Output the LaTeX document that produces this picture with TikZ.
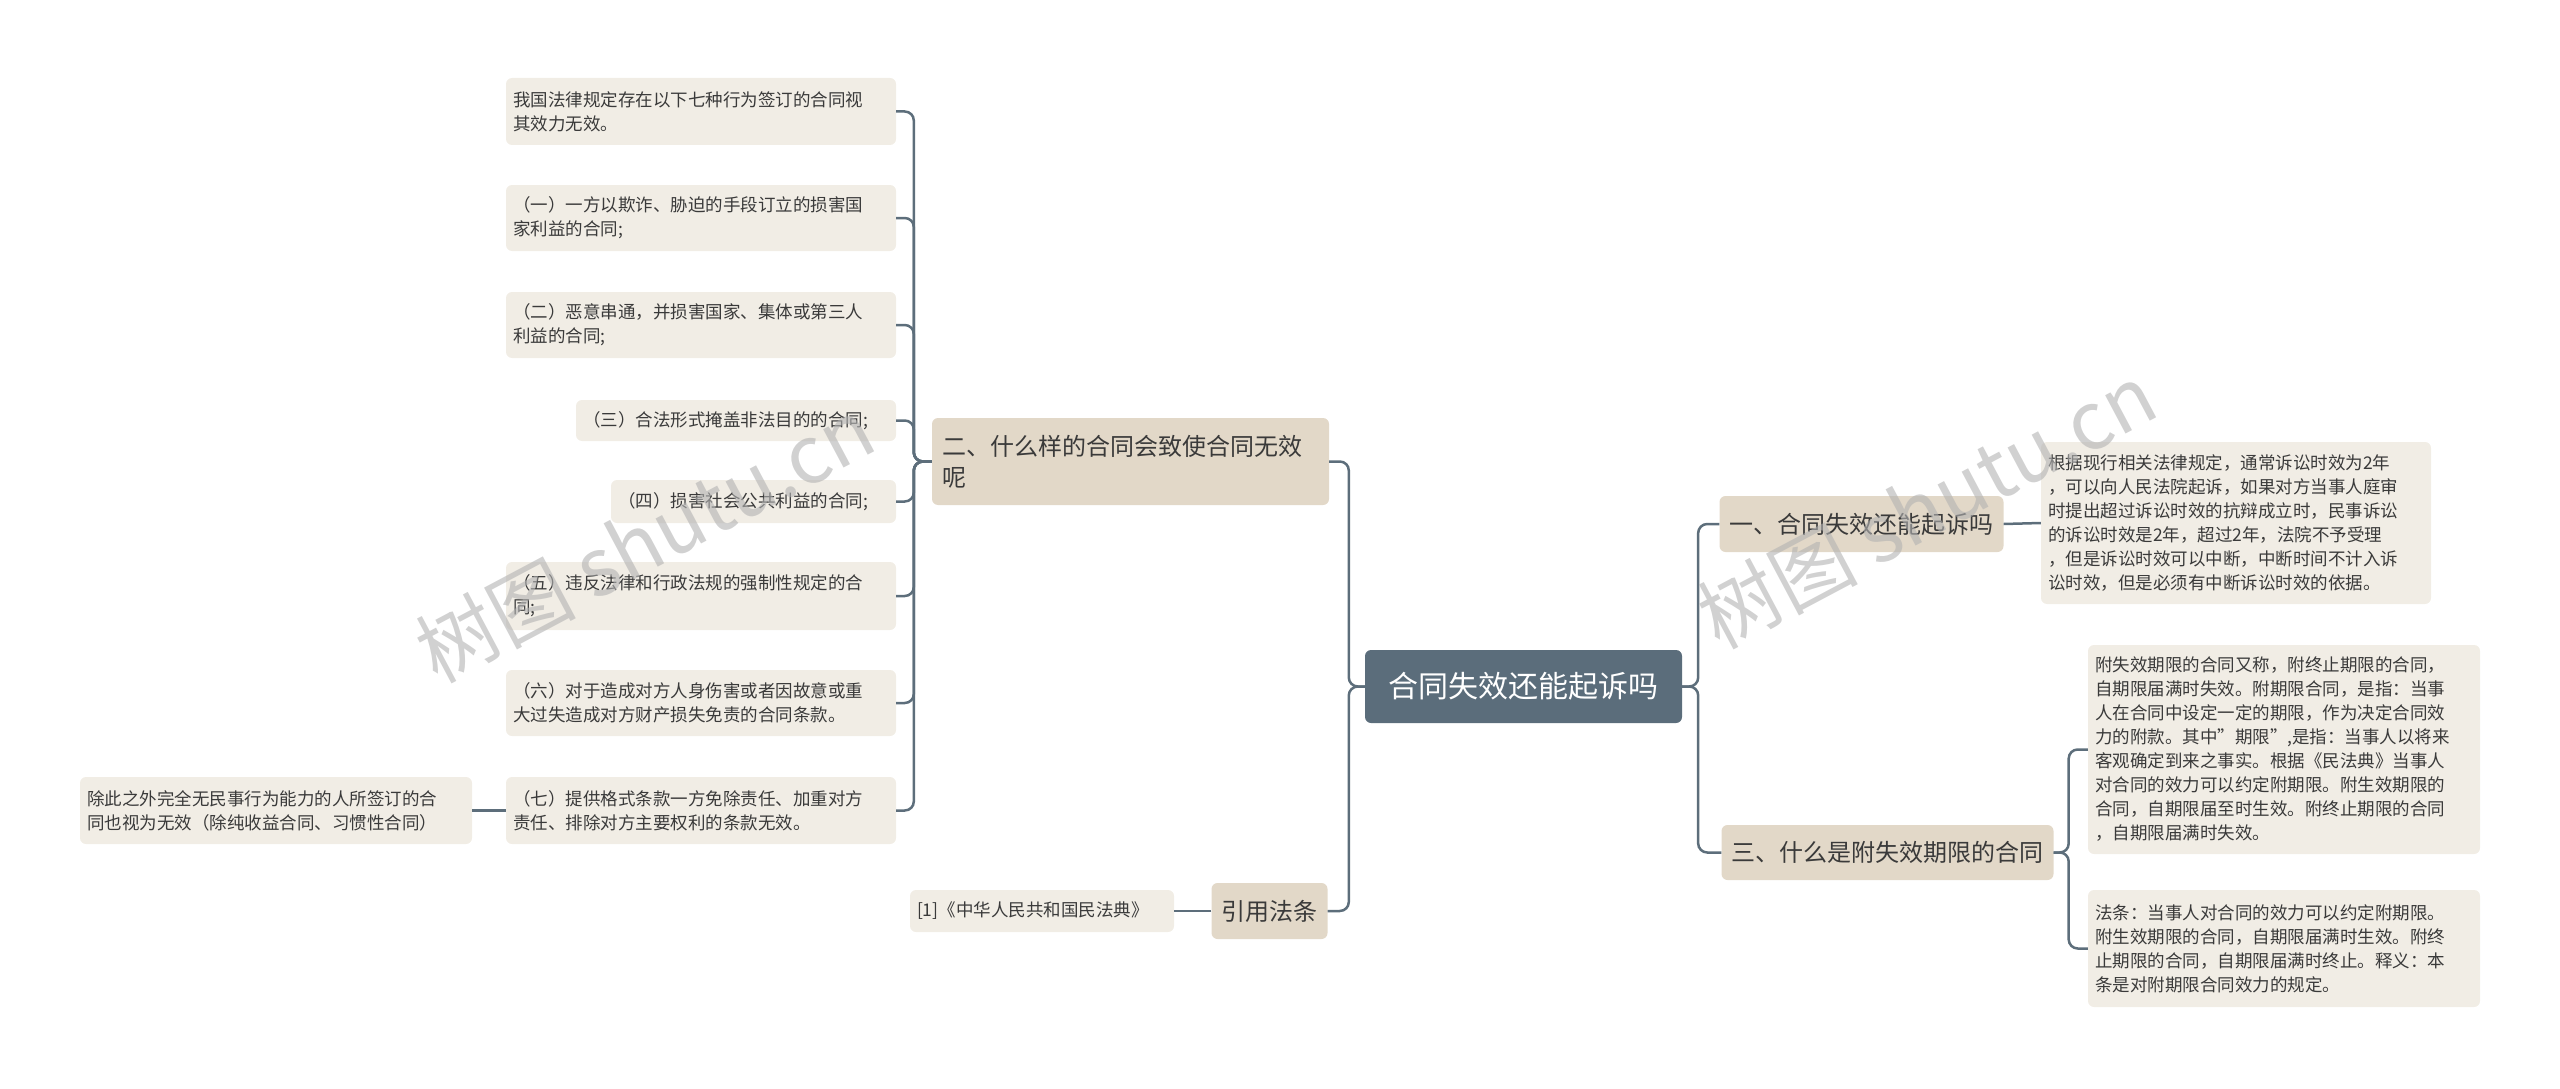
\documentclass[tikz,border=0pt]{standalone}
\usepackage{fontspec}
\setmainfont{Noto Sans CJK SC}
\definecolor{linkc}{HTML}{5D6E7B}
\definecolor{leafc}{HTML}{F1EDE5}
\definecolor{branchc}{HTML}{E2D8C8}
\definecolor{rootc}{HTML}{5B6D7B}
\definecolor{txtc}{HTML}{3A3A3A}
\tikzset{
  leaf/.style={fill=leafc, rounded corners=6pt, inner xsep=7pt, inner ysep=0pt, align=left,
    text=txtc, font=\fontsize{17.5}{24}\selectfont, minimum height=#1},
  branch/.style={fill=branchc, rounded corners=6pt, inner xsep=10pt, inner ysep=0pt, align=left,
    text=txtc, font=\fontsize{24}{31}\selectfont, minimum height=#1},
  link/.style={draw=linkc, line width=2.5pt, rounded corners=9pt},
}
\begin{document}
\begin{tikzpicture}[x=1pt, y=-1pt]
  \useasboundingbox (0,0) rectangle (2560,1089);
  % root and main branches
  \node[fill=rootc, rounded corners=6pt, text=white, font=\fontsize{30}{34}\selectfont,
    minimum width=317pt, minimum height=73pt] (ctr) at (1523.5,686.5) {合同失效还能起诉吗};
  \node[branch=87pt, text width=377pt] (bwhy) at (1130.5,461.5) {二、什么样的合同会致使合同无效\\呢};
  \node[branch=56pt] (bcite) at (1269.5,911) {引用法条};
  \node[branch=56pt] (bsue) at (1861.5,524) {一、合同失效还能起诉吗};
  \node[branch=55pt] (bterm) at (1887.5,852.5) {三、什么是附失效期限的合同};
  % leaves of branch two
  \node[leaf=67pt, text width=376pt] (w0) at (701,111.5) {我国法律规定存在以下七种行为签订的合同视\\其效力无效。};
  \node[leaf=66pt, text width=376pt] (w1) at (701,218) {（一）一方以欺诈、胁迫的手段订立的损害国\\家利益的合同;};
  \node[leaf=66pt, text width=376pt] (w2) at (701,325) {（二）恶意串通，并损害国家、集体或第三人\\利益的合同;};
  \node[leaf=41pt, text width=306pt] (w3) at (736,420.5) {（三）合法形式掩盖非法目的的合同;};
  \node[leaf=43pt, text width=271pt] (w4) at (753.5,501.5) {（四）损害社会公共利益的合同;};
  \node[leaf=68pt, text width=376pt] (w5) at (701,596) {（五）违反法律和行政法规的强制性规定的合\\同;};
  \node[leaf=66pt, text width=376pt] (w6) at (701,703) {（六）对于造成对方人身伤害或者因故意或重\\大过失造成对方财产损失免责的合同条款。};
  \node[leaf=67pt, text width=376pt] (w7) at (701,810.5) {（七）提供格式条款一方免除责任、加重对方\\责任、排除对方主要权利的条款无效。};
  \node[leaf=67pt, text width=378pt] (wx) at (276,810.5) {除此之外完全无民事行为能力的人所签订的合\\同也视为无效（除纯收益合同、习惯性合同）};
  \node[leaf=42pt, text width=250pt] (cite) at (1042,911) {[1]《中华人民共和国民法典》};
  % right leaves
  \node[leaf=162pt, text width=376pt] (sue) at (2236,523) {根据现行相关法律规定，通常诉讼时效为2年\\，可以向人民法院起诉，如果对方当事人庭审\\时提出超过诉讼时效的抗辩成立时，民事诉讼\\的诉讼时效是2年，超过2年，法院不予受理\\，但是诉讼时效可以中断，中断时间不计入诉\\讼时效，但是必须有中断诉讼时效的依据。};
  \node[leaf=209pt, text width=378pt] (term1) at (2284,749.5) {附失效期限的合同又称，附终止期限的合同，\\自期限届满时失效。附期限合同，是指：当事\\人在合同中设定一定的期限，作为决定合同效\\力的附款。其中"期限",是指：当事人以将来\\客观确定到来之事实。根据《民法典》当事人\\对合同的效力可以约定附期限。附生效期限的\\合同，自期限届至时生效。附终止期限的合同\\，自期限届满时失效。};
  \node[leaf=117pt, text width=378pt] (term2) at (2284,948.5) {法条：当事人对合同的效力可以约定附期限。\\附生效期限的合同，自期限届满时生效。附终\\止期限的合同，自期限届满时终止。释义：本\\条是对附期限合同效力的规定。};
  % trunks
  \path (ctr.west) ++(-16,0) coordinate (lt);
  \path (ctr.east) ++(16,0) coordinate (rt);
  \path (bwhy.west) ++(-18,0) coordinate (wt);
  \path (bterm.east) ++(15,0) coordinate (tt);
  \foreach \kid in {bwhy,bcite} \draw[link] (ctr.west) -- (lt) |- (\kid.east);
  \foreach \kid in {bsue,bterm} \draw[link] (ctr.east) -- (rt) |- (\kid.west);
  \foreach \kid in {w0,w1,w2,w3,w4,w5,w6,w7} \draw[link] (bwhy.west) -- (wt) |- (\kid.east);
  \foreach \kid in {term1,term2} \draw[link] (bterm.east) -- (tt) |- (\kid.west);
  \draw[link] (bsue.east) -- (sue.west);
  \draw[link] (bcite.west) -- (cite.east);
  \draw[link] (w7.west) -- (wx.east);
  % watermarks
  \foreach \wx/\wy in {645/540, 1927/506}
    \node[rotate=28, text=black!30, opacity=0.6, font=\fontsize{80}{80}\selectfont] at (\wx,\wy) {树图 shutu.cn};
\end{tikzpicture}
\end{document}
